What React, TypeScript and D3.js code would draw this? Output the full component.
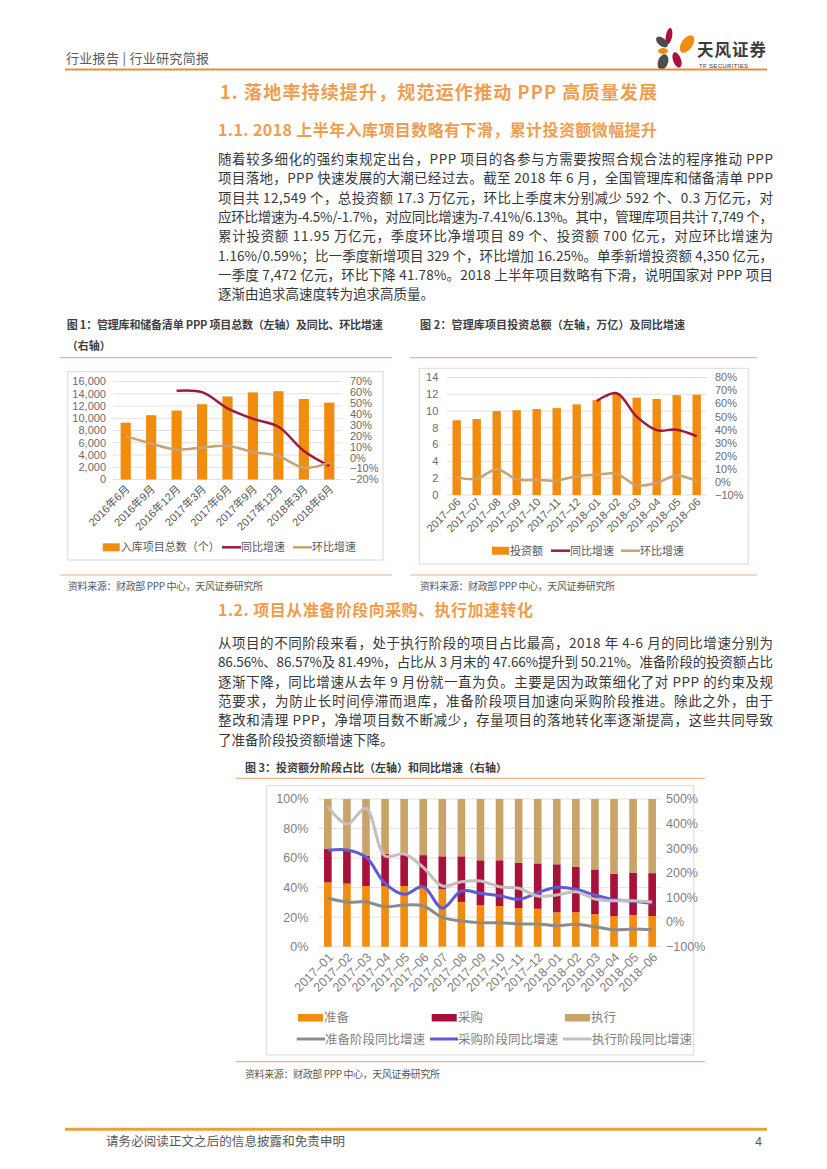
import React from 'react';
import * as d3 from 'd3';

const CJK = '"Noto Sans CJK SC", "Liberation Sans", sans-serif';
const SANS = '"Liberation Sans", "Noto Sans CJK SC", sans-serif';

const C_BAR = '#F28C0F';
const C_YOY = '#9E1A3D';
const C_QOQ = '#C8A274';
const C_PROC = '#A8123A';
const C_EXEC = '#C9A469';
const C_L_PREP = '#8C8C8C';
const C_L_PROC = '#5F5BD6';
const C_L_EXEC = '#C4BEC0';
const C_HEAD = '#EF9D4E';
const C_RULE = '#F4B183';
const C_GRID = '#D9D9D9';

// ---- chart 1: project count
const quarters = ['2016年6月', '2016年9月', '2016年12月', '2017年3月', '2017年6月', '2017年9月', '2017年12月', '2018年3月', '2018年6月'];
const projectCounts = [9280, 10500, 11260, 12290, 13560, 14220, 14420, 13140, 12549];
const projectYoY = [null, null, 61.4, 60.2, 45.4, 35.8, 28.4, 6.2, -7.41];
const projectQoQ = [19.8, 13.0, 7.5, 9.3, 10.8, 5.3, 1.6, -9.2, -4.5];
const countTicks = [0, 2000, 4000, 6000, 8000, 10000, 12000, 14000, 16000];
const countPctTicks = [-20, -10, 0, 10, 20, 30, 40, 50, 60, 70];

// ---- chart 2: investment total
const months2 = ['2017–06', '2017–07', '2017–08', '2017–09', '2017–10', '2017–11', '2017–12', '2018–01', '2018–02', '2018–03', '2018–04', '2018–05', '2018–06'];
const investTotal = [8.9, 9.05, 10.0, 10.1, 10.25, 10.35, 10.8, 11.3, 12.1, 11.6, 11.45, 11.9, 11.95];
const investYoY = [null, null, null, null, null, null, null, 62, 68, 50, 39.7, 40, 35];
const investMoM = [3.5, 2.3, 9.8, 2.0, 1.5, 1.1, 4.3, 5.5, 6.2, -2.6, -0.6, 5.0, 0.59];
const investTicks = [0, 2, 4, 6, 8, 10, 12, 14];
const investPctTicks = [-10, 0, 10, 20, 30, 40, 50, 60, 70, 80];

// ---- chart 3: share by stage
const months3 = ['2017–01', '2017–02', '2017–03', '2017–04', '2017–05', '2017–06', '2017–07', '2017–08', '2017–09', '2017–10', '2017–11', '2017–12', '2018–01', '2018–02', '2018–03', '2018–04', '2018–05', '2018–06'];
const prepShare = [43.6, 42.7, 41.1, 41.0, 41.1, 40.0, 39.1, 30.3, 28.0, 27.5, 26.2, 25.7, 23.3, 23.3, 22.1, 20.8, 21.5, 20.8];
const procShare = [22.5, 23.0, 20.5, 21.8, 21.0, 22.0, 22.1, 30.9, 30.5, 31.0, 30.7, 30.7, 32.5, 30.7, 30.2, 28.6, 28.4, 29.0];
const execShare = [33.9, 34.3, 38.4, 37.2, 37.9, 38.0, 38.8, 38.8, 41.5, 41.5, 43.1, 43.6, 44.2, 46.0, 47.7, 50.6, 50.1, 50.2];
const prepYoY = [96.6, 81.6, 81.6, 62.5, 69.4, 65.3, 19.4, 4.4, -2.5, -2.5, -7.8, -7.8, -14.7, -9.0, -18.8, -31.0, -28.1, -31.0];
const procYoY = [291.5, 292.8, 263.1, 157.5, 112.8, 143.7, 56.0, 126.2, 116.9, 107.1, 92.5, 119.3, 141.3, 133.1, 110.0, 91.0, 85.0, 76.0];
const execYoY = [468.6, 398.4, 462.0, 268.4, 276.5, 222.5, 146.5, 164.0, 166.9, 143.7, 137.2, 105.9, 110.0, 123.4, 93.7, 86.56, 86.57, 81.49];
const shareTicks = [0, 20, 40, 60, 80, 100];
const yoyTicks = [-100, 0, 100, 200, 300, 400, 500];

const para1 = [
  '随着较多细化的强约束规定出台，PPP 项目的各参与方需要按照合规合法的程序推动 PPP',
  '项目落地，PPP 快速发展的大潮已经过去。截至 2018 年 6 月，全国管理库和储备清单 PPP',
  '项目共 12,549 个，总投资额 17.3 万亿元，环比上季度末分别减少 592 个、0.3 万亿元，对',
  '应环比增速为-4.5%/-1.7%，对应同比增速为-7.41%/6.13%。其中，管理库项目共计 7,749 个，',
  '累计投资额 11.95 万亿元，季度环比净增项目 89 个、投资额 700 亿元，对应环比增速为',
  '1.16%/0.59%；比一季度新增项目 329 个，环比增加 16.25%。单季新增投资额 4,350 亿元，',
  '一季度 7,472 亿元，环比下降 41.78%。2018 上半年项目数略有下滑，说明国家对 PPP 项目',
  '逐渐由追求高速度转为追求高质量。',
];
const para2 = [
  '从项目的不同阶段来看，处于执行阶段的项目占比最高，2018 年 4-6 月的同比增速分别为',
  '86.56%、86.57%及 81.49%，占比从 3 月末的 47.66%提升到 50.21%。准备阶段的投资额占比',
  '逐渐下降，同比增速从去年 9 月份就一直为负。主要是因为政策细化了对 PPP 的约束及规',
  '范要求，为防止长时间停滞而退库，准备阶段项目加速向采购阶段推进。除此之外，由于',
  '整改和清理 PPP，净增项目数不断减少，存量项目的落地转化率逐渐提高，这些共同导致',
  '了准备阶段投资额增速下降。',
];

const fmtThousands = d3.format(',');
const fmtPct = (v: number) => `${v < 0 ? '−' + Math.abs(v) : v}%`;

function Para({ lines, x, y, step, width, size }: any) {
  return (
    <g fontFamily={CJK} fontSize={size} fill="#383838">
      {lines.map((t: string, i: number) => (
        <text
          key={i}
          x={x}
          y={y + i * step}
          {...(i < lines.length - 1 ? { textLength: width, lengthAdjust: 'spacing' } : {})}
        >
          {t}
        </text>
      ))}
    </g>
  );
}

function ComboChart(p: any) {
  const x = d3.scaleBand<string>().domain(p.cats).range([p.x0, p.x1]).paddingInner(p.pad).paddingOuter(p.pad / 2);
  const yL = d3.scaleLinear().domain(p.leftDomain).range([p.yBottom, p.yTop]);
  const yR = d3.scaleLinear().domain(p.rightDomain).range([p.yBottom, p.yTop]);
  const cx = (c: string) => (x(c) as number) + x.bandwidth() / 2;
  const line = d3
    .line<[string, number | null]>()
    .defined((d) => d[1] != null)
    .x((d) => cx(d[0]))
    .y((d) => yR(d[1] as number))
    .curve(d3.curveCatmullRom.alpha(0.5));
  const yoyPts = p.cats.map((c: string, i: number) => [c, p.yoy[i]]);
  const qoqPts = p.cats.map((c: string, i: number) => [c, p.qoq[i]]);
  const lg = p.legend;
  return (
    <g fontFamily={SANS}>
      <rect x={p.box[0]} y={p.box[1]} width={p.box[2]} height={p.box[3]} fill="#fff" stroke={C_GRID} />
      {p.leftTicks.map((t: number) => (
        <g key={t}>
          <line x1={p.x0} x2={p.x1} y1={yL(t)} y2={yL(t)} stroke={C_GRID} strokeWidth={0.8} />
          <text x={p.leftLabelX} y={yL(t)} dy="0.35em" textAnchor="end" fontSize={p.fs} fill="#6b6b6b">
            {p.leftFmt(t)}
          </text>
        </g>
      ))}
      {p.rightTicks.map((t: number) => (
        <text key={t} x={p.rightLabelX} y={yR(t)} dy="0.35em" fontSize={p.fs} fill="#6b6b6b">
          {fmtPct(t)}
        </text>
      ))}
      {p.cats.map((c: string, i: number) => (
        <rect key={c} x={x(c)} y={yL(p.bars[i])} width={x.bandwidth()} height={yL(0) - yL(p.bars[i])} fill={C_BAR} />
      ))}
      <path d={line(yoyPts) as string} fill="none" stroke={C_YOY} strokeWidth={2.5} />
      <path d={line(qoqPts) as string} fill="none" stroke={C_QOQ} strokeWidth={2.5} />
      {p.cats.map((c: string) => (
        <text
          key={c}
          transform={`translate(${cx(c) + 2},${p.labelY}) rotate(-45)`}
          dy="0.35em"
          textAnchor="end"
          fontSize={p.fs}
          fill="#595959"
        >
          {c}
        </text>
      ))}
      <g fontSize={p.fs} fill="#595959">
        <rect x={lg.x[0]} y={lg.y - 4} width={17} height={8} fill={C_BAR} />
        <text x={lg.x[0] + 18} y={lg.y} dy="0.36em">{p.labels[0]}</text>
        <line x1={lg.x[1]} x2={lg.x[1] + 19} y1={lg.y} y2={lg.y} stroke={C_YOY} strokeWidth={2.5} />
        <text x={lg.x[1] + 19} y={lg.y} dy="0.36em">{p.labels[1]}</text>
        <line x1={lg.x[2]} x2={lg.x[2] + 19} y1={lg.y} y2={lg.y} stroke={C_QOQ} strokeWidth={2.5} />
        <text x={lg.x[2] + 19} y={lg.y} dy="0.36em">{p.labels[2]}</text>
      </g>
    </g>
  );
}

function StageChart() {
  const x0 = 318.3, x1 = 661.7, yTop = 799, yBottom = 946.7;
  const x = d3.scaleBand<string>().domain(months3).range([x0, x1]).paddingInner(0.6).paddingOuter(0.3);
  const yL = d3.scaleLinear().domain([0, 100]).range([yBottom, yTop]);
  const yR = d3.scaleLinear().domain([-100, 500]).range([yBottom, yTop]);
  const cx = (c: string) => (x(c) as number) + x.bandwidth() / 2;
  const rows = months3.map((m, i) => ({ m, prep: prepShare[i], proc: procShare[i], exec: execShare[i] }));
  const series = d3.stack<any>().keys(['prep', 'proc', 'exec'])(rows);
  const fills: any = { prep: C_BAR, proc: C_PROC, exec: C_EXEC };
  const line = d3
    .line<number>()
    .x((_, i) => cx(months3[i]))
    .y((d) => yR(d))
    .curve(d3.curveCatmullRom.alpha(0.5));
  const fs = 12.5;
  return (
    <g fontFamily={SANS}>
      <rect x={266.7} y={785.7} width={427} height={269.3} fill="#fff" stroke={C_GRID} />
      {shareTicks.map((t) => (
        <g key={t}>
          <line x1={x0} x2={x1} y1={yL(t)} y2={yL(t)} stroke={C_GRID} strokeWidth={0.8} />
          <text x={308.3} y={yL(t)} dy="0.35em" textAnchor="end" fontSize={fs} fill="#7f7f7f">
            {t}%
          </text>
        </g>
      ))}
      {yoyTicks.map((t) => (
        <text key={t} x={666} y={yR(t)} dy="0.35em" fontSize={fs} fill="#7f7f7f">
          {fmtPct(t)}
        </text>
      ))}
      {series.map((s) => (
        <g key={s.key} fill={fills[s.key]}>
          {s.map((d: any) => (
            <rect key={d.data.m} x={x(d.data.m)} y={yL(d[1])} width={x.bandwidth()} height={yL(d[0]) - yL(d[1])} />
          ))}
        </g>
      ))}
      <path d={line(prepYoY) as string} fill="none" stroke={C_L_PREP} strokeWidth={3} />
      <path d={line(procYoY) as string} fill="none" stroke={C_L_PROC} strokeWidth={3} />
      <path d={line(execYoY) as string} fill="none" stroke={C_L_EXEC} strokeWidth={3} />
      {months3.map((c) => (
        <text
          key={c}
          transform={`translate(${cx(c) + 3},${955}) rotate(-45)`}
          dy="0.35em"
          textAnchor="end"
          fontSize={fs}
          fill="#7f7f7f"
        >
          {c}
        </text>
      ))}
      <g fontSize={fs} fill="#7f7f7f">
        <rect x={298} y={1014} width={25} height={7.5} fill={C_BAR} />
        <text x={324} y={1017.7} dy="0.36em">准备</text>
        <rect x={431.7} y={1014} width={25} height={7.5} fill={C_PROC} />
        <text x={458} y={1017.7} dy="0.36em">采购</text>
        <rect x={565} y={1014} width={25} height={7.5} fill={C_EXEC} />
        <text x={591} y={1017.7} dy="0.36em">执行</text>
        <line x1={296.7} x2={325} y1={1039} y2={1039} stroke={C_L_PREP} strokeWidth={3} />
        <text x={325} y={1039} dy="0.36em">准备阶段同比增速</text>
        <line x1={430} x2={458} y1={1039} y2={1039} stroke={C_L_PROC} strokeWidth={3} />
        <text x={458} y={1039} dy="0.36em">采购阶段同比增速</text>
        <line x1={563} x2={591.7} y1={1039} y2={1039} stroke={C_L_EXEC} strokeWidth={3} />
        <text x={592} y={1039} dy="0.36em">执行阶段同比增速</text>
      </g>
    </g>
  );
}

function Logo() {
  return (
    <g>
      <ellipse cx={669} cy={36} rx={3.2} ry={8} fill="#A8123A" transform="rotate(10 669 36)" />
      <ellipse cx={687} cy={44} rx={5.5} ry={10} fill="#F28C0F" transform="rotate(35 687 44)" />
      <ellipse cx={662} cy={42} rx={4} ry={7} fill="#4D4D4D" transform="rotate(-50 662 42)" />
      <ellipse cx={663} cy={51} rx={5} ry={3} fill="#F28C0F" />
      <ellipse cx={677} cy={60} rx={4} ry={8} fill="#A8123A" transform="rotate(-20 677 60)" />
      <ellipse cx={663} cy={62} rx={5} ry={8} fill="#4D4D4D" transform="rotate(20 663 62)" />
      <text x={697} y={56} fontFamily={CJK} fontWeight="bold" fontSize={16.5} fill="#3c3c3c" textLength={69}>
        天风证券
      </text>
      <text x={699} y={67.5} fontFamily={SANS} fontSize={6} fill="#3c3c3c" textLength={49}>
        TF SECURITIES
      </text>
    </g>
  );
}

export default function App() {
  return (
    <svg width={827} height={1169} style={{ position: 'absolute', left: 0, top: 0, background: '#fff' }}>
      {/* header */}
      <text x={66} y={62.5} fontFamily={CJK} fontSize={13} fill="#595959" textLength={143}>
        行业报告 | 行业研究简报
      </text>
      <Logo />
      <line x1={65} x2={767} y1={69.5} y2={69.5} stroke="#E98B3A" strokeWidth={2} />

      {/* section 1 */}
      <text x={220} y={98.5} fontFamily={CJK} fontWeight="bold" fontSize={18} fill={C_HEAD} textLength={437}>
        1. 落地率持续提升，规范运作推动 PPP 高质量发展
      </text>
      <text x={218} y={136} fontFamily={CJK} fontWeight="bold" fontSize={16} fill={C_HEAD} textLength={439}>
        1.1. 2018 上半年入库项目数略有下滑，累计投资额微幅提升
      </text>
      <Para lines={para1} x={218} y={164} step={19.3} width={555} size={13.5} />

      {/* chart 1 */}
      <g fontFamily={CJK} fontWeight="bold" fontSize={11} fill="#404040">
        <text x={66.7} y={329} textLength={316}>图 1：管理库和储备清单 PPP 项目总数（左轴）及同比、环比增速</text>
        <text x={66.7} y={350}>（右轴）</text>
      </g>
      <line x1={60} x2={392} y1={357.7} y2={357.7} stroke={C_RULE} strokeWidth={1.2} />
      <ComboChart
        box={[67.7, 371.7, 315.3, 188.3]}
        cats={quarters}
        bars={projectCounts}
        yoy={projectYoY}
        qoq={projectQoQ}
        x0={113}
        x1={342}
        yTop={381.5}
        yBottom={479.5}
        pad={0.6}
        leftDomain={[0, 16000]}
        rightDomain={[-20, 70]}
        leftTicks={countTicks}
        rightTicks={countPctTicks}
        leftFmt={fmtThousands}
        leftLabelX={106}
        rightLabelX={350}
        fs={11}
        labelY={487}
        legend={{ y: 547.3, x: [102.7, 222, 293] }}
        labels={['入库项目总数（个）', '同比增速', '环比增速']}
      />
      <line x1={60} x2={392} y1={575} y2={575} stroke={C_RULE} strokeWidth={1.2} />
      <text x={68} y={590.3} fontFamily={CJK} fontSize={10} fill="#595959" textLength={195}>
        资料来源：财政部 PPP 中心，天风证券研究所
      </text>

      {/* chart 2 */}
      <text x={420} y={329} fontFamily={CJK} fontWeight="bold" fontSize={11} fill="#404040" textLength={265}>
        图 2：管理库项目投资总额（左轴，万亿）及同比增速
      </text>
      <line x1={410} x2={757} y1={357.7} y2={357.7} stroke={C_RULE} strokeWidth={1.2} />
      <ComboChart
        box={[419.3, 368.3, 329, 195.7]}
        cats={months2}
        bars={investTotal}
        yoy={investYoY}
        qoq={investMoM}
        x0={446.7}
        x1={706.7}
        yTop={377.5}
        yBottom={495}
        pad={0.58}
        leftDomain={[0, 14]}
        rightDomain={[-10, 80]}
        leftTicks={investTicks}
        rightTicks={investPctTicks}
        leftFmt={(v: number) => String(v)}
        leftLabelX={438.3}
        rightLabelX={715}
        fs={11}
        labelY={500}
        legend={{ y: 550.7, x: [492, 551, 621] }}
        labels={['投资额', '同比增速', '环比增速']}
      />
      <line x1={410} x2={757} y1={575} y2={575} stroke={C_RULE} strokeWidth={1.2} />
      <text x={420} y={590.3} fontFamily={CJK} fontSize={10} fill="#595959" textLength={195}>
        资料来源：财政部 PPP 中心，天风证券研究所
      </text>

      {/* section 1.2 */}
      <text x={218} y={616} fontFamily={CJK} fontWeight="bold" fontSize={16} fill={C_HEAD} textLength={315}>
        1.2. 项目从准备阶段向采购、执行加速转化
      </text>
      <Para lines={para2} x={218} y={648} step={19.3} width={555} size={13.5} />

      {/* chart 3 */}
      <text x={245} y={772.3} fontFamily={CJK} fontWeight="bold" fontSize={11} fill="#404040" textLength={262}>
        图 3：投资额分阶段占比（左轴）和同比增速（右轴）
      </text>
      <line x1={236} x2={705} y1={778.3} y2={778.3} stroke={C_RULE} strokeWidth={1.2} />
      <StageChart />
      <line x1={236} x2={705} y1={1061.7} y2={1061.7} stroke={C_RULE} strokeWidth={1.2} />
      <text x={245} y={1077.6} fontFamily={CJK} fontSize={10} fill="#595959" textLength={195}>
        资料来源：财政部 PPP 中心，天风证券研究所
      </text>

      {/* footer */}
      <line x1={65} x2={767} y1={1129.3} y2={1129.3} stroke="#E9A23B" strokeWidth={3} />
      <text x={106} y={1146} fontFamily={CJK} fontSize={12.5} fill="#595959" textLength={239}>
        请务必阅读正文之后的信息披露和免责申明
      </text>
      <text x={762} y={1146} fontFamily={SANS} fontSize={12} fill="#595959" textAnchor="end">
        4
      </text>
    </svg>
  );
}
